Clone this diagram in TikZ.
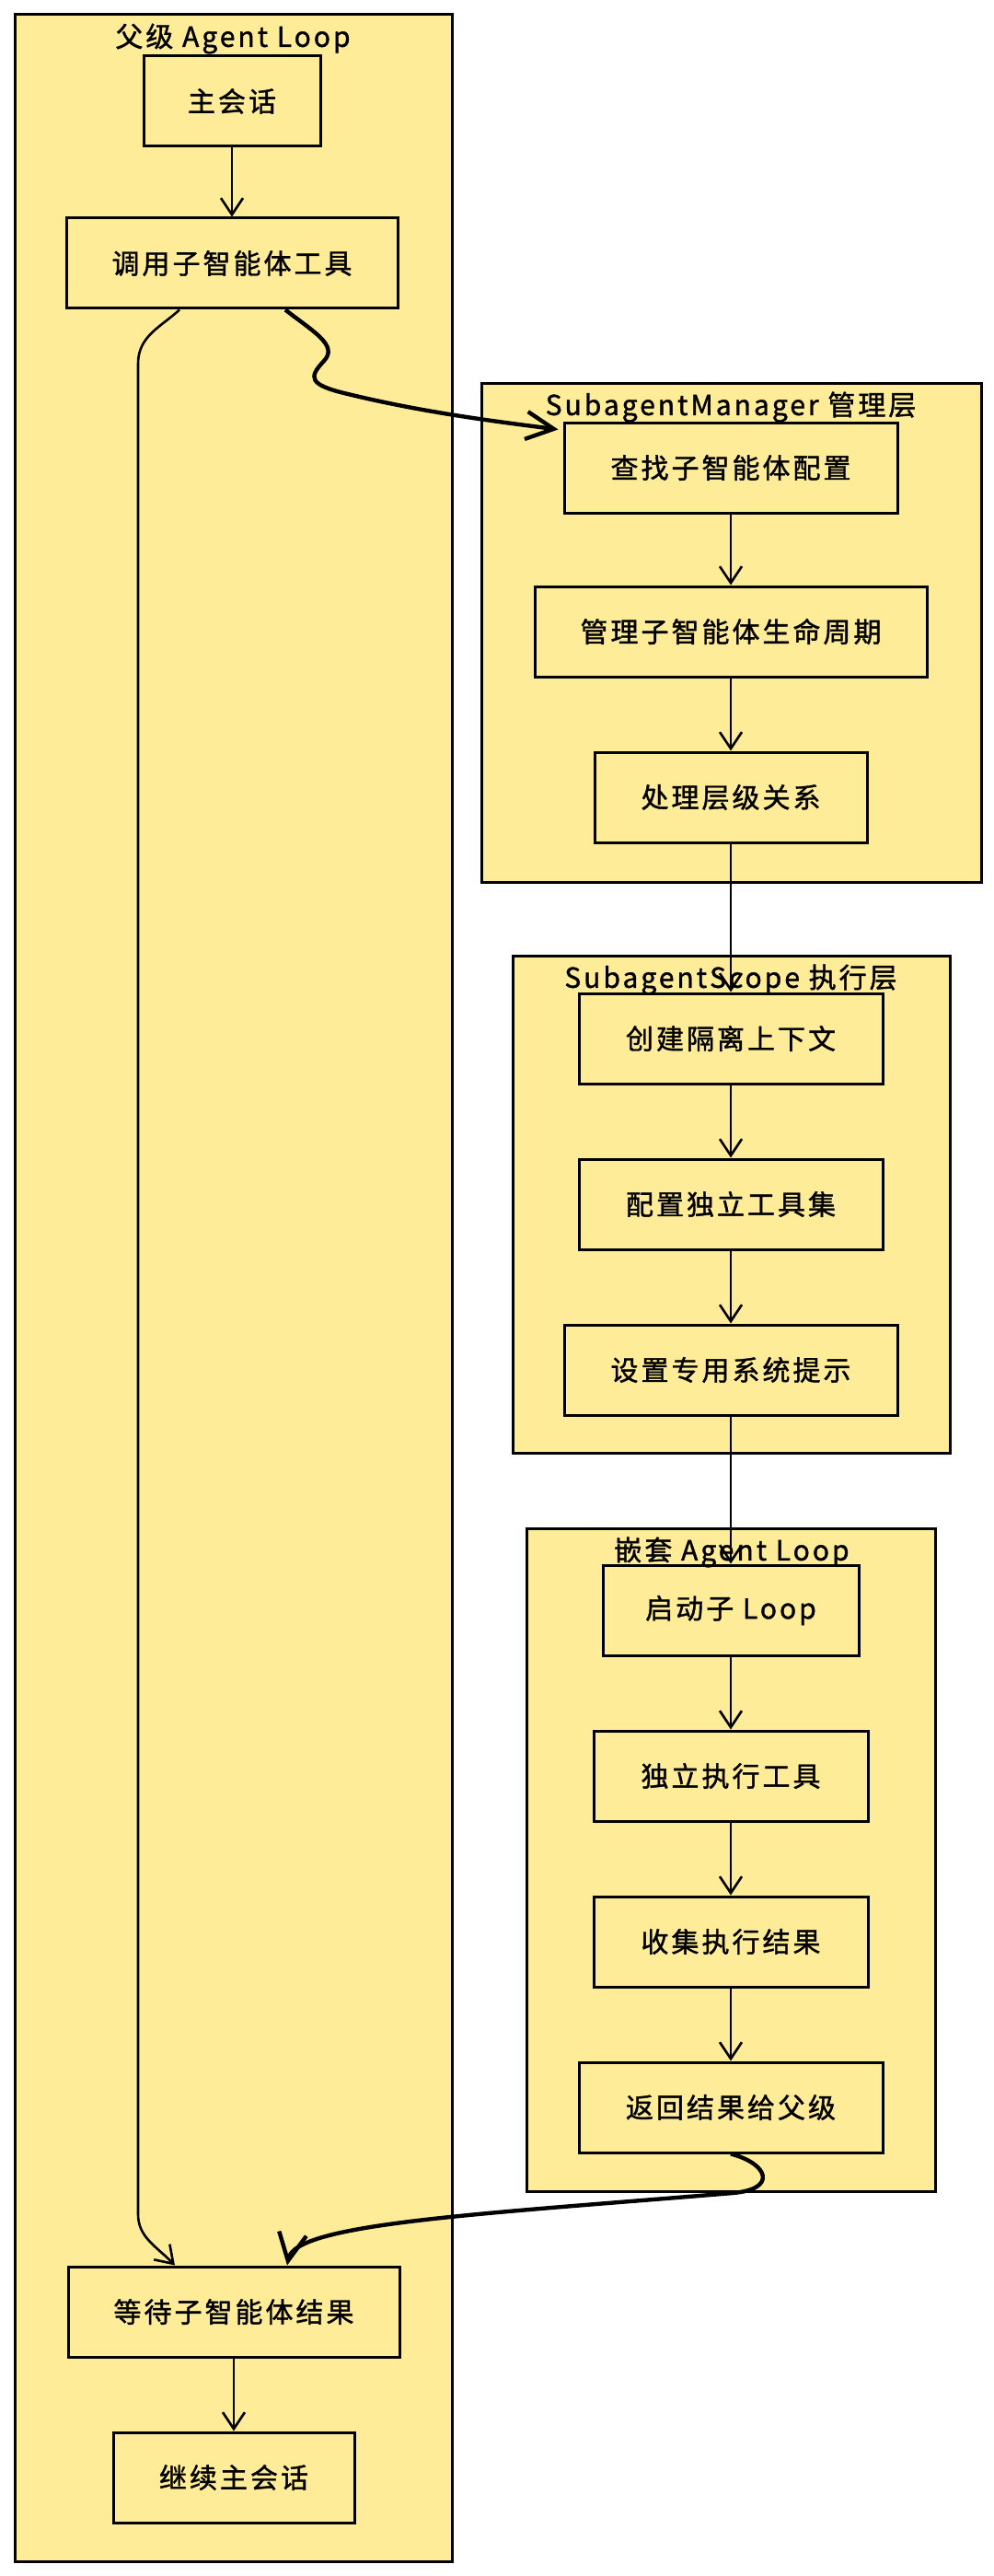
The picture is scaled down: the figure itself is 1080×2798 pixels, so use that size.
\documentclass[tikz,border=0pt]{standalone}
\usepackage{fontspec}
\newfontfamily\cjk[LetterSpace=10, FakeBold=1.3]{Noto Sans CJK SC}
\usetikzlibrary{arrows.meta,positioning,calc}
\definecolor{boxyellow}{HTML}{FFEC99}

\begin{document}
\begin{tikzpicture}[
  x=0.5pt, y=-0.5pt,
  stepbox/.style={rectangle, draw, line width=1.5pt, fill=boxyellow, minimum height=49pt, inner sep=0pt, font=\cjk\fontsize{15pt}{18pt}\selectfont},
  frame/.style={draw, line width=1.5pt, fill=boxyellow},
  title/.style={inner sep=0pt, font=\cjk\fontsize{15pt}{18pt}\selectfont},
  line/.style={draw, line width=1.3pt, -{Straight Barb[length=9pt,width=12pt]}},
  thickline/.style={draw, line width=2.2pt, -{Straight Barb[length=15pt,width=15pt]}}
]
\useasboundingbox (0,0) rectangle (1080,2798);
\fill[white] (0,0) rectangle (1080,2798);

% group frames
\draw[frame] (16,16) rectangle (491,2782);
\draw[frame] (523,416) rectangle (1066,958);
\draw[frame] (557,1038) rectangle (1032,1578);
\draw[frame] (572,1660) rectangle (1016,2380);

% parent loop
\node [stepbox, minimum width=96pt] (main) at (252,110) {主会话};
\node [stepbox, minimum width=180pt, below of=main, node distance=88pt] (call) {调用子智能体工具};
\node [stepbox, minimum width=180pt] (wait) at (254,2511) {等待子智能体结果};
\node [stepbox, minimum width=131pt, below of=wait, node distance=90pt] (resume) {继续主会话};

% manager
\node [stepbox, minimum width=181pt] (find) at (794,508) {查找子智能体配置};
\node [stepbox, minimum width=213pt, below of=find, node distance=89pt] (life) {管理子智能体生命周期};
\node [stepbox, minimum width=148pt, below of=life, node distance=90pt] (hier) {处理层级关系};

% scope
\node [stepbox, minimum width=165pt, below of=hier, node distance=131pt] (ctx) {创建隔离上下文};
\node [stepbox, minimum width=165pt, below of=ctx, node distance=90pt] (tools) {配置独立工具集};
\node [stepbox, minimum width=181pt, below of=tools, node distance=90pt] (prompt) {设置专用系统提示};

% nested loop
\node [stepbox, minimum width=139pt, below of=prompt, node distance=130.5pt] (start) {启动子 Loop};
\node [stepbox, minimum width=149pt, below of=start, node distance=90pt] (exec) {独立执行工具};
\node [stepbox, minimum width=149pt, below of=exec, node distance=90pt] (collect) {收集执行结果};
\node [stepbox, minimum width=165pt, below of=collect, node distance=90pt] (ret) {返回结果给父级};

% titles
\node [title] (ttl-parent) at (253,42) {父级 Agent Loop};
\node [title] (ttl-mgr) at (794,442) {SubagentManager 管理层};
\node [title] (ttl-scope) at (794,1064) {SubagentScope 执行层};
\node [title] (ttl-nested) at (795,1686) {嵌套 Agent Loop};

\path [line] (main) -- (call);
\path [line] (find) -- (life);
\path [line] (life) -- (hier);
\path [line] (hier) -- (ctx);
\path [line] (ctx) -- (tools);
\path [line] (tools) -- (prompt);
\path [line] (prompt) -- (start);
\path [line] (start) -- (exec);
\path [line] (exec) -- (collect);
\path [line] (collect) -- (ret);
\path [line] (wait) -- (resume);

\path [thickline] ($(call.south)+(58,0)$) .. controls (340,360) and (368,375) .. (352,392) .. controls (335,410) and (335,418) .. (378,428) .. controls (460,448) and (540,458) .. ($(find.north west)+(-5,9)$);
\path [line] ($(call.south)+(-57,0)$) .. controls (175,355) and (150,365) .. (150,395) -- (150,2405) .. controls (150,2430) and (170,2440) .. ($(wait.north)+(-64,0)$);
\path [thickline] (ret.south) .. controls (835,2350) and (845,2378) .. (796,2382) .. controls (520,2405) and (320,2415) .. ($(wait.north)+(58,0)$);
\end{tikzpicture}
\end{document}
